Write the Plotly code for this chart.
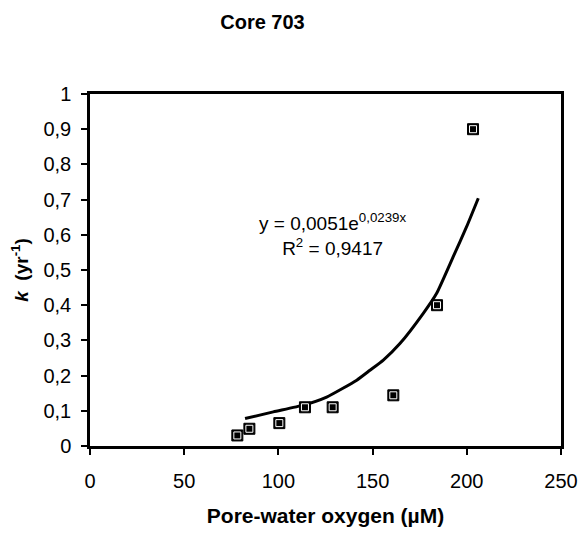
import plotly.graph_objects as go

# Data points
oxygen = [78.2, 84.6, 100.5, 114.1, 128.8, 161.0, 184.2, 203.3]
k_vals = [0.030, 0.049, 0.065, 0.110, 0.110, 0.144, 0.400, 0.900]

# Trend line
trend_x = [82.3, 97.3, 113.2, 125.6, 141.6, 148.6, 155.7, 164.5, 176.9, 184.0, 192.8, 199.9, 206.1]
trend_y = [0.078, 0.097, 0.116, 0.139, 0.187, 0.215, 0.244, 0.291, 0.377, 0.434, 0.538, 0.623, 0.704]

x_ticks = [0, 50, 100, 150, 200, 250]

FONT = "Arial, Liberation Sans, sans-serif"

fig = go.Figure()
fig.add_trace(go.Scatter(x=trend_x, y=trend_y, mode="lines",
                         line=dict(color="black", width=3, shape="spline", smoothing=0.5),
                         showlegend=False, hoverinfo="skip"))
fig.add_trace(go.Scatter(x=oxygen, y=k_vals, mode="markers",
                         marker=dict(symbol="square", size=11, color="black",
                                     line=dict(color="black", width=1)),
                         showlegend=False))
fig.add_trace(go.Scatter(x=oxygen, y=k_vals, mode="markers",
                         marker=dict(symbol="square-open", size=7, color="white",
                                     line=dict(color="white", width=1)),
                         showlegend=False, hoverinfo="skip"))

fig.add_annotation(x=0.516, y=0.676, xref="paper", yref="paper",
                   text="y = 0,0051e<sup>0,0239x</sup><br>R<sup>2</sup> = 0,9417",
                   showarrow=False, font=dict(family=FONT, size=19, color="black"),
                   align="center")

fig.update_layout(
    width=580, height=533,
    margin=dict(l=90, r=19, t=94, b=87, autoexpand=False),
    paper_bgcolor="white", plot_bgcolor="white",
    separators=",.",
    font=dict(family=FONT, color="black"),
    title=dict(text="<b>Core 703</b>", x=262.5/580, xanchor="center",
               y=1 - 22/533, yanchor="middle",
               font=dict(family=FONT, size=20, color="black")),
    xaxis=dict(range=[0, 250], tickvals=x_ticks, showgrid=False, zeroline=False,
               automargin=False,
               showline=True, linecolor="black", linewidth=2.5, mirror=True,
               ticks="outside", ticklen=6, tickwidth=2, tickcolor="black",
               tickfont=dict(family=FONT, size=20, color="black"),
               ticklabelstandoff=9,
               title=dict(text="<b>Pore-water oxygen (µM)</b>", standoff=18,
                          font=dict(family=FONT, size=21, color="black"))),
    yaxis=dict(range=[0, 1], dtick=0.1, showgrid=False, zeroline=False,
               automargin=False,
               showline=True, linecolor="black", linewidth=2.5, mirror=True,
               ticks="outside", ticklen=6, tickwidth=2, tickcolor="black",
               tickfont=dict(family=FONT, size=20, color="black"),
               ticklabelstandoff=6,
               title=dict(text="<b><i>k</i>  (yr<sup>-1</sup>)</b>", standoff=10,
                          font=dict(family=FONT, size=19, color="black"))),
)

fig.write_html("out.html")
